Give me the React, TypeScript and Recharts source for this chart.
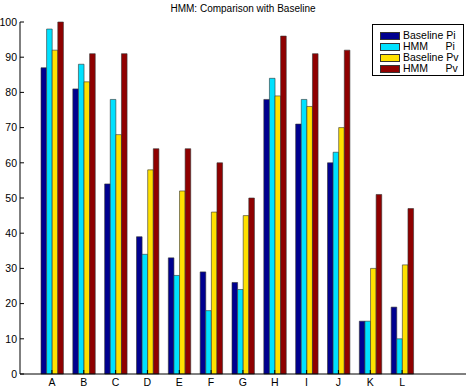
import React from 'react';
import { BarChart, Bar, XAxis, YAxis } from 'recharts';

const categories = ['A', 'B', 'C', 'D', 'E', 'F', 'G', 'H', 'I', 'J', 'K', 'L'];
const baselinePi = [87, 81, 54, 39, 33, 29, 26, 78, 71, 60, 15, 19];
const hmmPi = [98, 88, 78, 34, 28, 18, 24, 84, 78, 63, 15, 10];
const baselinePv = [92, 83, 68, 58, 52, 46, 45, 79, 76, 70, 30, 31];
const hmmPv = [100, 91, 91, 64, 64, 60, 50, 96, 91, 92, 51, 47];
const yTicks = [0, 10, 20, 30, 40, 50, 60, 70, 80, 90, 100];

const series = [
  { key: 'basePi', label: 'Baseline Pi', color: '#00008f' },
  { key: 'hmmPi', label: 'HMM      Pi', color: '#00e1ff' },
  { key: 'basePv', label: 'Baseline Pv', color: '#ffe100' },
  { key: 'hmmPv', label: 'HMM      Pv', color: '#8f0000' },
];

const data = categories.map((cat, i) => ({
  cat,
  basePi: baselinePi[i],
  hmmPi: hmmPi[i],
  basePv: baselinePv[i],
  hmmPv: hmmPv[i],
}));

const FONT = '"Liberation Sans", Arial, sans-serif';
const tickStyle = { fontSize: 10.5, fill: '#000', fontFamily: FONT };
const xPad = { left: 16, right: 48 };

// frame axes: keep the tick marks, drop the labels
const NoLabel = () => <g />;

const ChartLegend = () => (
  <div
    style={{
      position: 'absolute', left: 372, top: 24, width: 90, height: 50,
      border: '1px solid #000', background: '#fff', fontFamily: FONT, fontSize: 10.5,
    }}
  >
    {series.map((s, i) => (
      <div key={s.key} style={{ position: 'absolute', left: 7, top: 5 + i * 11, height: 11, display: 'flex', alignItems: 'center' }}>
        <span style={{ width: 20, height: 8, background: s.color, border: '1px solid #333', boxSizing: 'border-box' }} />
        <span style={{ marginLeft: 3, whiteSpace: 'pre', lineHeight: '11px' }}>{s.label}</span>
      </div>
    ))}
  </div>
);

export default function App() {
  return (
    <div style={{ position: 'absolute', left: 0, top: 0, width: 470, height: 389, background: '#fff' }}>
      <div
        style={{
          position: 'absolute', left: 20, width: 446, top: 3, textAlign: 'center',
          fontFamily: FONT, fontSize: 10, lineHeight: '12px',
        }}
      >
        HMM: Comparison with Baseline
      </div>
      <BarChart
        width={470}
        height={389}
        data={data}
        margin={{ top: 22, right: 4, left: 0, bottom: 0 }}
        barGap={0}
        barSize={5.6}
      >
        <XAxis
          dataKey="cat"
          padding={xPad}
          height={15}
          tick={tickStyle}
          tickSize={-4}
          tickMargin={9}
          stroke="#000"
          interval={0}
        />
        <XAxis
          xAxisId="top"
          orientation="top"
          dataKey="cat"
          padding={xPad}
          height={0}
          tick={NoLabel}
          tickSize={-4}
          stroke="#000"
          interval={0}
        />
        <YAxis
          domain={[0, 100]}
          ticks={yTicks}
          width={20}
          tick={tickStyle}
          tickSize={-4}
          tickMargin={7}
          stroke="#000"
          interval={0}
        />
        <YAxis
          yAxisId="right"
          orientation="right"
          domain={[0, 100]}
          ticks={yTicks}
          width={0}
          tick={NoLabel}
          tickSize={-4}
          stroke="#000"
          interval={0}
        />
        {series.map((s) => (
          <Bar
            key={s.key}
            dataKey={s.key}
            name={s.label}
            fill={s.color}
            stroke="#333"
            strokeWidth={0.6}
            isAnimationActive={false}
          />
        ))}
      </BarChart>
      <ChartLegend />
    </div>
  );
}
